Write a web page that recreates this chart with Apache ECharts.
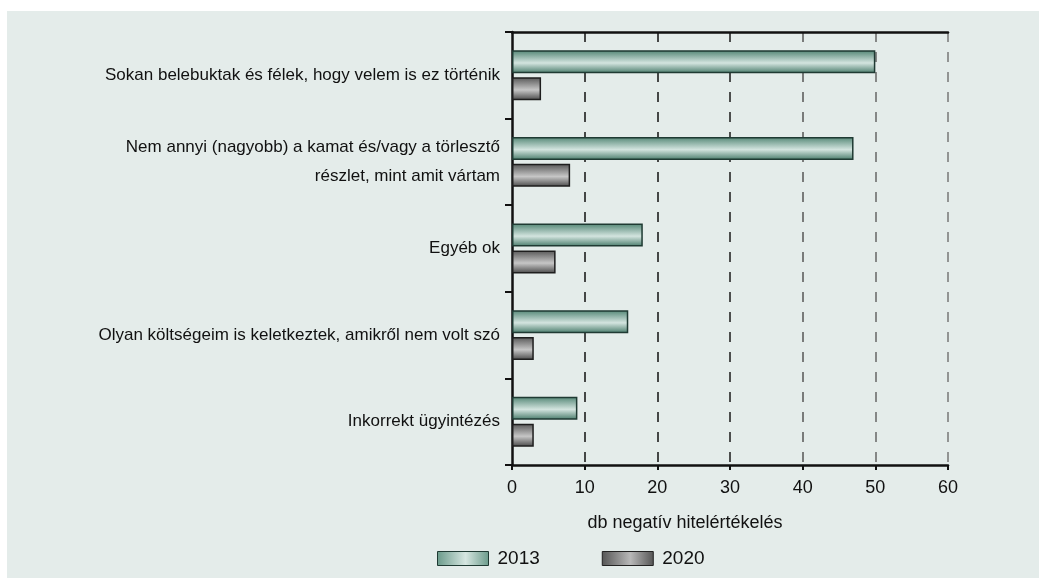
<!DOCTYPE html>
<html>
<head>
<meta charset="utf-8">
<script src="https://cdn.jsdelivr.net/npm/echarts@6/dist/echarts.min.js"></script>
<style>
  html, body { margin: 0; padding: 0; background: #ffffff; }
  #chart { width: 1039px; height: 578px; }
</style>
</head>
<body>
<div id="chart"></div>
<script>
// Reasons given for negative credit assessments, 2013 vs 2020
const categories = [
  'Sokan belebuktak és félek, hogy velem is ez történik',
  'Nem annyi (nagyobb) a kamat és/vagy a törlesztő\nrészlet, mint amit vártam',
  'Egyéb ok',
  'Olyan költségeim is keletkeztek, amikről nem volt szó',
  'Inkorrekt ügyintézés'
];
const seriesNames = ['2013', '2020'];
const values2013 = [50, 47, 18, 16, 9];
const values2020 = [4, 8, 6, 3, 3];
const axisTitle = 'db negatív hitelértékelés';

const font = 'Liberation Sans, Arial, Helvetica, sans-serif';

function vGrad(edgeTop, mid, edgeBottom) {
  return new echarts.graphic.LinearGradient(0, 0, 0, 1, [
    { offset: 0, color: edgeTop },
    { offset: 0.55, color: mid },
    { offset: 1, color: edgeBottom }
  ]);
}
function hGrad(edge, mid, edge2) {
  return new echarts.graphic.LinearGradient(0, 0, 1, 0, [
    { offset: 0, color: edge },
    { offset: 0.55, color: mid },
    { offset: 1, color: edge2 }
  ]);
}

const tealBar = vGrad('#538675', '#d3e4df', '#477a69');
const grayBar = vGrad('#565656', '#c6c6c6', '#474747');

const chart = echarts.init(document.getElementById('chart'), null, { renderer: 'canvas' });

chart.setOption({
  animation: false,
  backgroundColor: '#ffffff',
  graphic: [{
    type: 'rect',
    z: -10,
    shape: { x: 7, y: 11, width: 1032, height: 567 },
    style: { fill: '#e4ecea' }
  }],
  title: {
    text: axisTitle,
    left: 680,
    top: 509,
    textAlign: 'center',
    textStyle: { fontFamily: font, fontSize: 18, fontWeight: 'normal', color: '#111' }
  },
  legend: {
    top: 549,
    left: 437,
    padding: 0,
    icon: 'rect',
    itemWidth: 51,
    itemHeight: 14,
    itemGap: 62,
    textStyle: { fontFamily: font, fontSize: 19, color: '#111', padding: [0, 0, 0, 4] },
    data: [
      { name: '2013', itemStyle: { color: hGrad('#6a9a8a', '#d6e6e1', '#6a9a8a'), borderColor: '#1f3a33', borderWidth: 1 } },
      { name: '2020', itemStyle: { color: hGrad('#555', '#b8b8b8', '#555'), borderColor: '#222', borderWidth: 1 } }
    ]
  },
  grid: { left: 512, top: 32, width: 436, height: 433, containLabel: false },
  xAxis: [{
    type: 'value',
    min: 0, max: 60, interval: 10,
    position: 'bottom',
    axisLine: { show: true, lineStyle: { color: '#111', width: 2.5 } },
    axisTick: { show: true, length: 5, lineStyle: { color: '#111', width: 2 } },
    axisLabel: { fontFamily: font, fontSize: 18, color: '#111', margin: 14 },
    splitLine: {
      show: true,
      lineStyle: {
        color: ['rgba(0,0,0,0)', '#111', '#111', '#1a1a1a', '#555', '#666', '#777'],
        type: [10, 10],
        width: 1.5
      }
    }
  }, {
    type: 'value',
    min: 0, max: 60, interval: 10,
    position: 'top',
    axisLine: { show: true, lineStyle: { color: '#111', width: 2.5 } },
    axisTick: { show: false },
    axisLabel: { show: false },
    splitLine: { show: false }
  }],
  yAxis: {
    type: 'category',
    inverse: true,
    data: categories,
    axisLine: { show: true, lineStyle: { color: '#111', width: 2.5 } },
    axisTick: { show: true, length: 7, lineStyle: { color: '#111', width: 2 } },
    axisLabel: {
      fontFamily: font, fontSize: 17, color: '#111', margin: 12,
      lineHeight: 29, align: 'right'
    }
  },
  series: [{
    name: seriesNames[0],
    type: 'bar',
    data: values2013,
    barWidth: 23,
    barGap: '17%',
    itemStyle: { color: tealBar, borderColor: '#1f3a33', borderWidth: 1.5 }
  }, {
    name: seriesNames[1],
    type: 'bar',
    data: values2020,
    barWidth: 23,
    itemStyle: { color: grayBar, borderColor: '#1e1e1e', borderWidth: 1.5 }
  }]
});
</script>
</body>
</html>
